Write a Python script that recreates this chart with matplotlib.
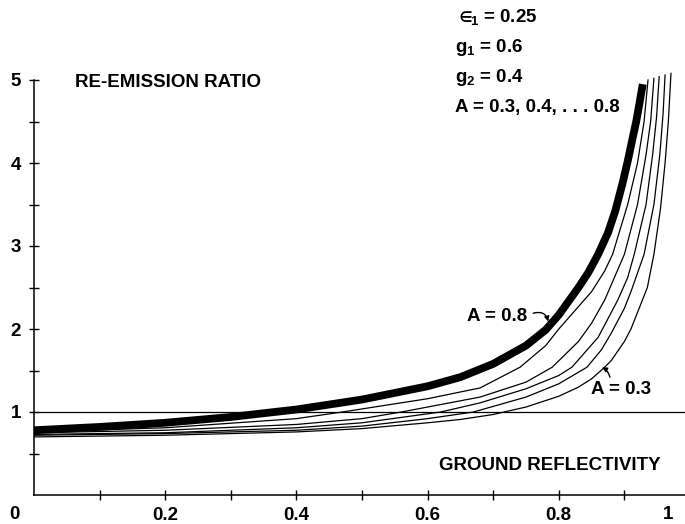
import matplotlib
matplotlib.use("Agg")
import matplotlib.pyplot as plt

# ground reflectivity (x) vs re-emission ratio (y), one curve per A
a_values = [0.3, 0.4, 0.5, 0.6, 0.7, 0.8]

x_a03 = [0, 0.2, 0.4, 0.5, 0.6, 0.65, 0.7, 0.75, 0.8, 0.83, 0.85, 0.87, 0.88, 0.9, 0.91, 0.92,
         0.935, 0.945, 0.955, 0.962, 0.967, 0.971]
y_a03 = [0.70, 0.72, 0.76, 0.80, 0.87, 0.91, 0.97, 1.06, 1.19, 1.30, 1.40, 1.54, 1.62, 1.85, 2.00,
         2.20, 2.50, 2.90, 3.45, 4.00, 4.50, 5.08]

x_a04 = [0, 0.2, 0.4, 0.5, 0.6, 0.67, 0.75, 0.8, 0.843, 0.865, 0.88, 0.9, 0.91, 0.93, 0.945,
         0.954, 0.959, 0.962]
y_a04 = [0.72, 0.74, 0.78, 0.83, 0.92, 1.00, 1.18, 1.34, 1.54, 1.75, 1.95, 2.25, 2.45, 2.90, 3.50,
         4.10, 4.60, 5.06]

x_a05 = [0, 0.2, 0.4, 0.5, 0.62, 0.68, 0.75, 0.8, 0.82, 0.86, 0.89, 0.905, 0.915, 0.933, 0.943,
         0.949, 0.953]
y_a05 = [0.73, 0.75, 0.81, 0.87, 1.00, 1.11, 1.28, 1.44, 1.54, 1.90, 2.35, 2.62, 2.90, 3.50, 4.10,
         4.55, 5.04]

x_a06 = [0, 0.2, 0.4, 0.5, 0.56, 0.68, 0.75, 0.79, 0.83, 0.85, 0.87, 0.9, 0.92, 0.933, 0.94, 0.945]
y_a06 = [0.75, 0.78, 0.85, 0.92, 1.00, 1.18, 1.36, 1.54, 1.85, 2.07, 2.35, 2.90, 3.50, 4.10, 4.50,
         5.02]

x_a07 = [0, 0.2, 0.4, 0.47, 0.6, 0.68, 0.741, 0.78, 0.8, 0.85, 0.87, 0.882, 0.905, 0.92, 0.93, 0.936]
y_a07 = [0.76, 0.81, 0.92, 1.00, 1.16, 1.29, 1.54, 1.80, 2.00, 2.45, 2.70, 2.90, 3.50, 4.00, 4.50,
         5.00]

x_a08 = [0, 0.1, 0.2, 0.3, 0.4, 0.5, 0.6, 0.65, 0.7, 0.75, 0.78, 0.8, 0.83, 0.845, 0.86, 0.875,
         0.886, 0.897, 0.905, 0.912, 0.918, 0.923, 0.928]
y_a08 = [0.78, 0.82, 0.87, 0.94, 1.03, 1.15, 1.31, 1.42, 1.58, 1.80, 1.99, 2.17, 2.50, 2.68, 2.90,
         3.16, 3.42, 3.75, 4.02, 4.28, 4.50, 4.72, 4.95]

curves = [(x_a03, y_a03), (x_a04, y_a04), (x_a05, y_a05),
          (x_a06, y_a06), (x_a07, y_a07), (x_a08, y_a08)]

y_tick_labels = ["1", "2", "3", "4", "5"]
x_tick_labels = ["0.2", "0.4", "0.6", "0.8"]

params_text = [r"$\in\!\!_\mathbf{1}$ = 0.25", r"g$_\mathbf{1}$ = 0.6", r"g$_\mathbf{2}$ = 0.4",
               "A = 0.3, 0.4, . . . 0.8"]

plt.rcParams["font.family"] = ["Liberation Sans", "DejaVu Sans"]
plt.rcParams["font.weight"] = "bold"
plt.rcParams["mathtext.fontset"] = "custom"
plt.rcParams["mathtext.bf"] = "Liberation Sans:bold"
plt.rcParams["mathtext.rm"] = "Liberation Sans:bold"
plt.rcParams["mathtext.it"] = "Liberation Sans:bold"
plt.rcParams["mathtext.fallback"] = "stixsans"

FS = 13.5

fig = plt.figure(figsize=(6.85, 5.24), dpi=100)
ax = fig.add_axes([34 / 685, 29 / 524, 0.992 * 656 / 685, 5.1 * 83 / 524])
ax.set_xlim(0, 0.992)
ax.set_ylim(0, 5.1)

# curves; A = 0.8 is drawn thick
for i, (xs, ys) in enumerate(curves):
    if a_values[i] == 0.8:
        ax.plot(xs, ys, color="black", lw=5.6, solid_capstyle="butt", solid_joinstyle="round")
    else:
        ax.plot(xs, ys, color="black", lw=0.9, solid_joinstyle="round")

ax.axhline(1, color="black", lw=0.9)

for side in ["top", "right"]:
    ax.spines[side].set_visible(False)
ax.spines["left"].set_bounds(0, 5)
ax.spines["left"].set_linewidth(1.1)
ax.spines["bottom"].set_linewidth(1.1)

ax.set_yticks([1, 2, 3, 4, 5])
ax.set_yticklabels(y_tick_labels)
ax.set_yticks([0.5, 1.5, 2.5, 3.5, 4.5], minor=True)
ax.set_xticks([0.2, 0.4, 0.6, 0.8])
ax.set_xticklabels(x_tick_labels)
ax.set_xticks([0.1, 0.3, 0.5, 0.7, 0.9], minor=True)
ax.tick_params(axis="both", which="both", direction="inout", length=7, width=1.0, labelsize=FS)
ax.tick_params(axis="y", pad=6)
ax.tick_params(axis="x", pad=5)

# the end labels of the x axis sit apart from the ticks
ax.text(-0.03, -0.24, "0", fontsize=FS, fontweight="bold", ha="center", va="center", clip_on=False)
ax.text(0.967, -0.24, "1", fontsize=FS, fontweight="bold", ha="center", va="center", clip_on=False)

ax.text(0.062, 4.97, "RE-EMISSION RATIO", fontsize=FS, fontweight="bold", ha="left", va="center")
ax.text(0.618, 0.35, "GROUND REFLECTIVITY", fontsize=FS, fontweight="bold", ha="left", va="center")

for j, line in enumerate(params_text):
    ax.text(0.642, 5.76 - j * 0.365, line, fontsize=FS, fontweight="bold", ha="left",
            va="center", clip_on=False)

ax.text(0.706, 2.15, "A = 0.8", fontsize=FS, fontweight="bold", ha="center", va="center")
ax.annotate("", xy=(0.784, 2.09), xytext=(0.761, 2.19),
            arrowprops=dict(arrowstyle="-|>", color="black", lw=1.0, mutation_scale=7,
                            shrinkA=0, shrinkB=0, connectionstyle="arc3,rad=-0.5"))
ax.text(0.895, 1.27, "A = 0.3", fontsize=FS, fontweight="bold", ha="center", va="center")
ax.annotate("", xy=(0.866, 1.54), xytext=(0.878, 1.42),
            arrowprops=dict(arrowstyle="-|>", color="black", lw=1.0, mutation_scale=7,
                            shrinkA=0, shrinkB=0, connectionstyle="arc3,rad=0.2"))

fig.savefig("out.png", dpi=100)
